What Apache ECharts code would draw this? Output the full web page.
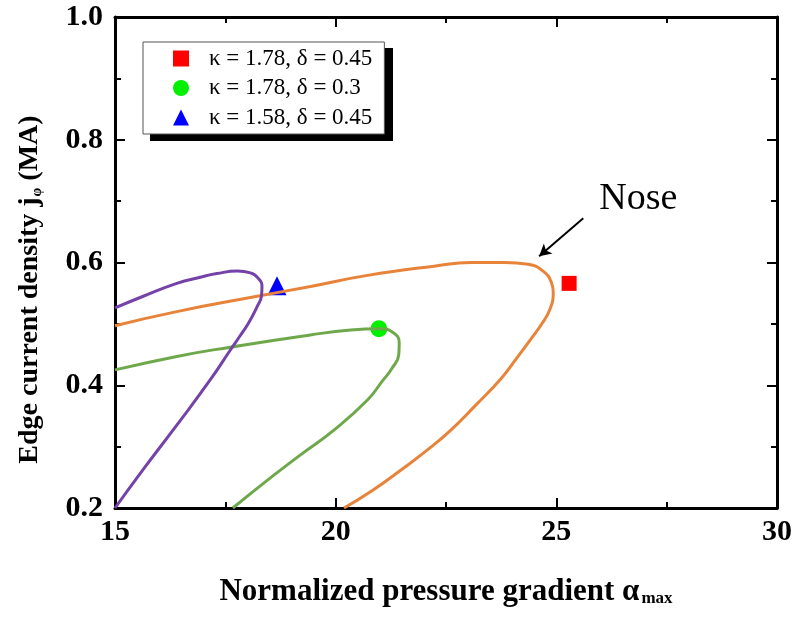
<!DOCTYPE html>
<html>
<head>
<meta charset="utf-8">
<script src="https://cdn.jsdelivr.net/npm/echarts@6/dist/echarts.min.js"></script>
<style>
  html, body { margin: 0; padding: 0; background: #fff; }
  #chart { width: 795px; height: 619px; }
</style>
</head>
<body>
<div id="chart"></div>
<script>
// curves (alpha_max, j_phi)
const orangeAlpha = [15.0, 16.40, 18.22, 19.43, 20.72, 22.23, 23.07, 23.83, 24.36, 24.70, 24.89, 24.93, 24.85, 24.66, 24.41, 24.09, 23.75, 23.18, 22.61, 22.05, 21.48, 20.84, 20.19];
const orangeJ     = [0.497, 0.520, 0.545, 0.561, 0.579, 0.594, 0.600, 0.600, 0.597, 0.586, 0.567, 0.551, 0.523, 0.499, 0.474, 0.443, 0.411, 0.368, 0.327, 0.293, 0.262, 0.229, 0.200];

const greenAlpha = [15.0, 16.40, 17.61, 19.43, 20.34, 21.00, 21.30, 21.44, 21.43, 21.27, 21.06, 20.72, 19.96, 19.21, 18.52, 17.67];
const greenJ     = [0.425, 0.447, 0.462, 0.482, 0.490, 0.492, 0.486, 0.469, 0.450, 0.427, 0.407, 0.376, 0.327, 0.287, 0.249, 0.200];

const purpleAlpha = [15.0, 15.64, 16.40, 16.93, 17.31, 17.77, 18.07, 18.26, 18.33, 18.32, 18.22, 18.03, 17.82, 17.61, 17.16, 16.40, 15.64, 15.0];
const purpleJ     = [0.526, 0.545, 0.566, 0.576, 0.582, 0.586, 0.583, 0.573, 0.561, 0.546, 0.528, 0.502, 0.479, 0.457, 0.409, 0.335, 0.263, 0.200];

// marked operating points
const pointNames = ['κ = 1.78, δ = 0.45', 'κ = 1.78, δ = 0.3', 'κ = 1.58, δ = 0.45'];
const pointAlpha = [25.29, 20.98, 18.67];
const pointJ     = [0.566, 0.492, 0.562];

// "Nose" annotation
const noseText = [26.86, 0.703];
const arrowFrom = [25.61, 0.672];
const arrowTo   = [24.61, 0.610];

const xTicks = { min: 15, max: 30, step: 5 };
const yTicks = { min: 0.2, max: 1.0, step: 0.2 };

const serif = "'Liberation Serif', 'Times New Roman', 'DejaVu Serif', serif";

const zip = (a, b) => a.map((v, i) => [v, b[i]]);

const chart = echarts.init(document.getElementById('chart'));

const baseAxis = {
  type: 'value',
  splitLine: { show: false },
  axisLine: { show: true, onZero: false, lineStyle: { color: '#000', width: 3 } },
  axisTick: { show: true, inside: true, length: 10, lineStyle: { color: '#000', width: 2 } },
  minorTick: { show: true, splitNumber: 2, length: 6, lineStyle: { color: '#000', width: 2 } }
};

const tickLabel = {
  color: '#000',
  fontFamily: serif,
  fontWeight: 'bold',
  fontSize: 30
};

const curve = (name, a, j, color) => ({
  name: name,
  type: 'line',
  data: zip(a, j),
  smooth: 0.5,
  showSymbol: false,
  clip: true,
  lineStyle: { color: color, width: 3 }
});

const marker = (i, symbol, size, color) => ({
  name: pointNames[i],
  type: 'scatter',
  symbol: symbol,
  symbolSize: size,
  itemStyle: { color: color, opacity: 1 },
  data: [[pointAlpha[i], pointJ[i]]]
});

const orangeSeries = curve('orange', orangeAlpha, orangeJ, '#E8833A');
orangeSeries.markLine = {
  silent: true,
  symbol: ['none', 'arrow'],
  symbolSize: [10, 12],
  label: { show: false },
  lineStyle: { color: '#000', width: 2, type: 'solid' },
  data: [[{ coord: arrowFrom }, { coord: arrowTo }]]
};
orangeSeries.markPoint = {
  silent: true,
  symbol: 'circle',
  symbolSize: 0,
  label: { show: true, position: 'inside', formatter: 'Nose', color: '#000', fontFamily: serif, fontSize: 38 },
  data: [{ coord: noseText }]
};

const option = {
  backgroundColor: '#fff',
  animation: false,
  grid: { left: 115, right: 18, top: 17, bottom: 111 },
  // hard drop shadow behind the legend box
  graphic: [{
    type: 'rect',
    z: 1,
    left: 150,
    top: 48,
    shape: { width: 243, height: 93 },
    style: { fill: '#000' }
  }],
  legend: {
    data: pointNames,
    orient: 'vertical',
    left: 143,
    top: 42,
    z: 5,
    padding: [5, 12, 5, 30],
    itemGap: 6.5,
    itemWidth: 16,
    itemHeight: 16,
    backgroundColor: '#fff',
    borderColor: '#555',
    borderWidth: 1,
    textStyle: {
      color: '#000',
      fontFamily: serif,
      fontSize: 23,
      padding: [0, 0, 0, 15]
    }
  },
  xAxis: [
    Object.assign({}, baseAxis, {
      position: 'bottom',
      min: xTicks.min, max: xTicks.max, interval: xTicks.step,
      axisLabel: Object.assign({ margin: 9 }, tickLabel),
      name: '{b|Normalized pressure gradient α}{s|max}',
      nameLocation: 'middle',
      nameGap: 63,
      nameTextStyle: {
        rich: {
          b: { fontFamily: serif, fontWeight: 'bold', fontSize: 31, color: '#000', lineHeight: 36, verticalAlign: 'bottom' },
          s: { fontFamily: serif, fontWeight: 'bold', fontSize: 17, color: '#000', lineHeight: 17, verticalAlign: 'bottom', padding: [24, 0, 0, 2] }
        }
      }
    }),
    Object.assign({}, baseAxis, {
      position: 'top',
      min: xTicks.min, max: xTicks.max, interval: xTicks.step,
      axisLabel: { show: false }
    })
  ],
  yAxis: [
    Object.assign({}, baseAxis, {
      position: 'left',
      min: yTicks.min, max: yTicks.max, interval: yTicks.step,
      axisLabel: Object.assign({ margin: 12, formatter: v => v.toFixed(1) }, tickLabel),
      name: '{b|Edge current density j}{s|φ}{b| (MA)}',
      nameLocation: 'middle',
      nameGap: 71,
      nameRotate: 90,
      nameTextStyle: {
        padding: [0, 54, 0, 0],
        rich: {
          b: { fontFamily: serif, fontWeight: 'bold', fontSize: 28, color: '#000', lineHeight: 33, verticalAlign: 'bottom' },
          s: { fontFamily: serif, fontWeight: 'bold', fontSize: 14, color: '#000', lineHeight: 14, verticalAlign: 'bottom', padding: [19, 0, 0, 1] }
        }
      }
    }),
    Object.assign({}, baseAxis, {
      position: 'right',
      min: yTicks.min, max: yTicks.max, interval: yTicks.step,
      axisLabel: { show: false }
    })
  ],
  series: [
    orangeSeries,
    curve('green', greenAlpha, greenJ, '#6FA84B'),
    curve('purple', purpleAlpha, purpleJ, '#7442A8'),
    marker(0, 'rect', 15, '#FF0000'),
    marker(1, 'circle', 17, '#00F000'),
    marker(2, 'triangle', 19, '#0000FF')
  ]
};

chart.setOption(option);
window.addEventListener('resize', function () {
  chart.resize();
});
</script>
</body>
</html>
